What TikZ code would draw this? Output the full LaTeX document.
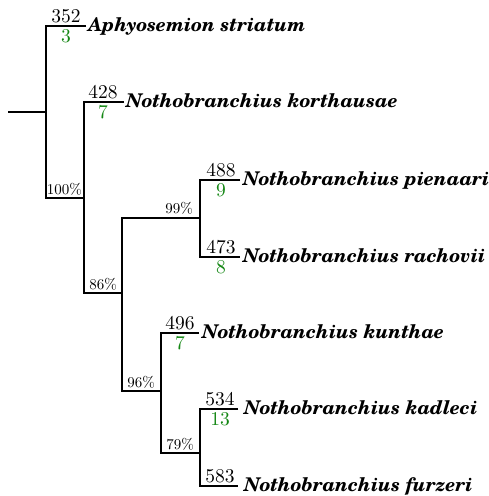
\documentclass[tikz,border=0pt]{standalone}
\usepackage{fontspec}
\newfontfamily\schola{TeX Gyre Schola}
\newfontfamily\lmten{lmroman10-regular}[Extension=.otf]
\definecolor{numgreen}{RGB}{20,135,20}
\newcommand{\spfont}{\schola\bfseries\itshape\fontsize{18.9}{22}\selectfont}
\newcommand{\numfont}{\lmten\fontsize{19.5}{22}\selectfont}
\newcommand{\pctfont}{\lmten\fontsize{15}{18}\selectfont}
\begin{document}
\begin{tikzpicture}[x=1pt,y=-1pt,
  branch/.style={line width=2pt},
  sp/.style={anchor=base west,inner sep=0pt,font=\spfont},
  cnt/.style={anchor=base,inner sep=0pt,font=\numfont},
  gcnt/.style={anchor=base,inner sep=0pt,text=numgreen,font=\numfont},
  pct/.style={anchor=base east,inner sep=0pt,font=\pctfont}]
\useasboundingbox (0,0) rectangle (489,496);
% internal nodes
\coordinate (r0) at (8,112);
\coordinate (n1) at (46,112);
\coordinate (n2) at (84,198);
\coordinate (n3) at (122,293);
\coordinate (n4) at (200,218);
\coordinate (n5) at (161,391);
\coordinate (n6) at (200,453);
% leaf ends
\coordinate (l1) at (86,26);
\coordinate (l2) at (124,102);
\coordinate (l3) at (240,180);
\coordinate (l4) at (240,257);
\coordinate (l5) at (199,333);
\coordinate (l6) at (238,409);
\coordinate (l7) at (238,486);
% branches
\draw[branch] (r0) -- (n1);
\draw[branch] (l1) -| (n1) |- (n2);
\draw[branch] (l2) -| (n2) |- (n3);
\draw[branch] (n4) -| (n3) |- (n5);
\draw[branch] (l3) -| (n4) |- (l4);
\draw[branch] (l5) -| (n5) |- (n6);
\draw[branch] (l6) -| (n6) |- (l7);
% species
\node[sp] (s1) at (88,31.5) {Aphyosemion striatum};
\node[sp] (s2) at (126,107.5) {Nothobranchius korthausae};
\node[sp] (s3) at (243,185.5) {Nothobranchius pienaari};
\node[sp] (s4) at (243,262.5) {Nothobranchius rachovii};
\node[sp] (s5) at (202,338.5) {Nothobranchius kunthae};
\node[sp] (s6) at (244,414.5) {Nothobranchius kadleci};
\node[sp] (s7) at (244,491.5) {Nothobranchius furzeri};
% counts
\node[cnt] (c1) at (66,22.5) {352};
\node[gcnt] (g1) at (66,42.5) {3};
\node[cnt] (c2) at (103,98.5) {428};
\node[gcnt] (g2) at (103,118.5) {7};
\node[cnt] (c3) at (221,176.5) {488};
\node[gcnt] (g3) at (221,196.5) {9};
\node[cnt] (c4) at (221,253.5) {473};
\node[gcnt] (g4) at (221,273.5) {8};
\node[cnt] (c5) at (180,329.5) {496};
\node[gcnt] (g5) at (180,349.5) {7};
\node[cnt] (c6) at (220,405.5) {534};
\node[gcnt] (g6) at (220,425.5) {13};
\node[cnt] (c7) at (220,482.5) {583};
% supports
\node[pct] (p1) at (82,194) {100\%};
\node[pct] (p2) at (117,289) {86\%};
\node[pct] (p3) at (193,213.5) {99\%};
\node[pct] (p4) at (155,387) {96\%};
\node[pct] (p5) at (194,449) {79\%};
\end{tikzpicture}
\end{document}
